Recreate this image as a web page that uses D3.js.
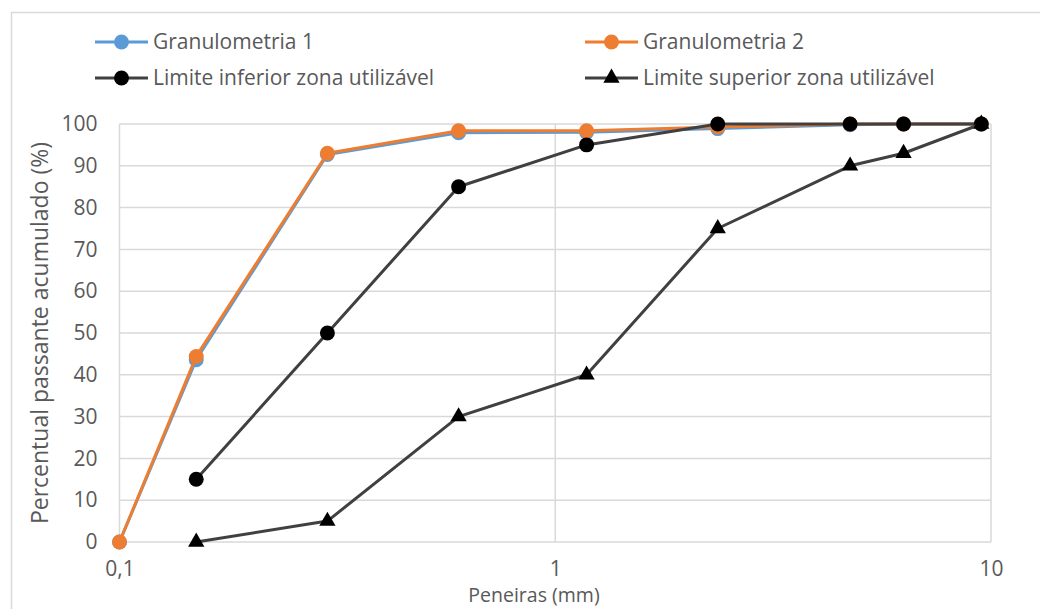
<!DOCTYPE html>
<html>
<head>
<meta charset="utf-8">
<script src="https://cdn.jsdelivr.net/npm/d3@7"></script>
<style>
  body { margin: 0; background: #fff; }
  svg { display: block; font-family: "Open Sans", sans-serif; }
</style>
</head>
<body>
<script>
// peneiras (mm) e percentual passante acumulado
var sieves = [0.15, 0.3, 0.6, 1.18, 2.36, 4.75, 6.3, 9.5];
var granSieves = [0.1, 0.15, 0.3, 0.6, 1.18, 2.36, 4.75, 6.3, 9.5];
var gran1 = [0, 43.6, 92.7, 97.9, 98.0, 98.9, 99.8, 100, 100];
var gran2 = [0, 44.4, 93.0, 98.4, 98.4, 99.3, 100, 100, 100];
var limInf = [15, 50, 85, 95, 100, 100, 100, 100];
var limSup = [0, 5, 30, 40, 75, 90, 93, 100];
var yTicks = [0, 10, 20, 30, 40, 50, 60, 70, 80, 90, 100];
var xTicks = [0.1, 1, 10];
var seriesNames = ["Granulometria 1", "Granulometria 2", "Limite inferior zona utilizável", "Limite superior zona utilizável"];

var W = 1040, H = 609;
var m = {left: 119.5, right: 991, top: 124, bottom: 542};

var svg = d3.select('body').append('svg')
    .attr('width', W)
    .attr('height', H);

svg.append('rect')
    .attr('x', 11.5).attr('y', 12.5)
    .attr('width', W).attr('height', H)
    .attr('fill', '#fff')
    .attr('stroke', '#d9d9d9')
    .attr('stroke-width', 1.5);

var x = d3.scaleLog().domain([0.1, 10]).range([m.left, m.right]);
var y = d3.scaleLinear().domain([0, 100]).range([m.bottom, m.top]);

// grade
var grid = svg.append('g').attr('stroke', '#d9d9d9').attr('stroke-width', 1.5);
grid.selectAll('line.h').data(yTicks).enter().append('line')
    .attr('x1', m.left).attr('x2', m.right)
    .attr('y1', function (d) { return y(d); })
    .attr('y2', function (d) { return y(d); });
grid.selectAll('line.v').data(xTicks).enter().append('line')
    .attr('y1', m.top).attr('y2', m.bottom)
    .attr('x1', function (d) { return x(d); })
    .attr('x2', function (d) { return x(d); });

// eixos (so rotulos)
var fmt = function (d) { return String(d).replace('.', ','); };
var yAxis = svg.append('g')
    .attr('transform', 'translate(' + (m.left - 10) + ',0)')
    .call(d3.axisLeft(y).tickValues(yTicks).tickSize(0).tickPadding(12));
var xAxis = svg.append('g')
    .attr('transform', 'translate(0,' + m.bottom + ')')
    .call(d3.axisBottom(x).tickValues(xTicks).tickFormat(fmt).tickSize(0).tickPadding(19));
[yAxis, xAxis].forEach(function (a) {
    a.select('.domain').remove();
    a.selectAll('text')
        .attr('fill', '#595959')
        .style('font-family', '"Open Sans", sans-serif')
        .style('font-size', '21px');
});

svg.append('text')
    .attr('transform', 'translate(48,' + ((m.top + m.bottom) / 2) + ') rotate(-90)')
    .attr('text-anchor', 'middle')
    .attr('fill', '#595959')
    .style('font-size', '23px')
    .text('Percentual passante acumulado (%)');

svg.append('text')
    .attr('x', 534)
    .attr('y', 602)
    .attr('text-anchor', 'middle')
    .attr('fill', '#595959')
    .style('font-size', '19.5px')
    .text('Peneiras (mm)');

var series = [
    {name: seriesNames[0], xs: granSieves, ys: gran1, line: '#5b9bd5', fill: '#5b9bd5', symbol: d3.symbolCircle},
    {name: seriesNames[1], xs: granSieves, ys: gran2, line: '#ed7d31', fill: '#ed7d31', symbol: d3.symbolCircle},
    {name: seriesNames[2], xs: sieves, ys: limInf, line: '#404040', fill: '#000', symbol: d3.symbolCircle},
    {name: seriesNames[3], xs: sieves, ys: limSup, line: '#404040', fill: '#000', symbol: d3.symbolTriangle}
];

var line = d3.line()
    .x(function (d) { return x(d[0]); })
    .y(function (d) { return y(d[1]); });

function symbolPath(s) {
    return d3.symbol().type(s.symbol).size(s.symbol === d3.symbolTriangle ? 115 : 175)();
}

series.forEach(function (s) {
    var pts = s.xs.map(function (v, i) { return [v, s.ys[i]]; });
    var g = svg.append('g');
    g.append('path')
        .attr('d', line(pts))
        .attr('fill', 'none')
        .attr('stroke', s.line)
        .attr('stroke-width', 3)
        .attr('stroke-linejoin', 'round');
    g.selectAll('path.mk').data(pts).enter().append('path')
        .attr('class', 'mk')
        .attr('d', symbolPath(s))
        .attr('transform', function (d) { return 'translate(' + x(d[0]) + ',' + y(d[1]) + ')'; })
        .attr('fill', s.fill);
});

// legenda
var legPos = [[95, 42], [585, 42], [95, 78], [585, 78]];
series.forEach(function (s, i) {
    var p = legPos[i];
    var g = svg.append('g').attr('transform', 'translate(' + p[0] + ',' + p[1] + ')');
    g.append('line')
        .attr('x1', 0).attr('x2', 53)
        .attr('stroke', s.line)
        .attr('stroke-width', 3);
    g.append('path')
        .attr('d', symbolPath(s))
        .attr('transform', 'translate(26.5,0)')
        .attr('fill', s.fill);
    g.append('text')
        .attr('x', 58)
        .attr('dy', '0.35em')
        .attr('fill', '#595959')
        .style('font-size', '21px')
        .text(s.name);
});
</script>
</body>
</html>
